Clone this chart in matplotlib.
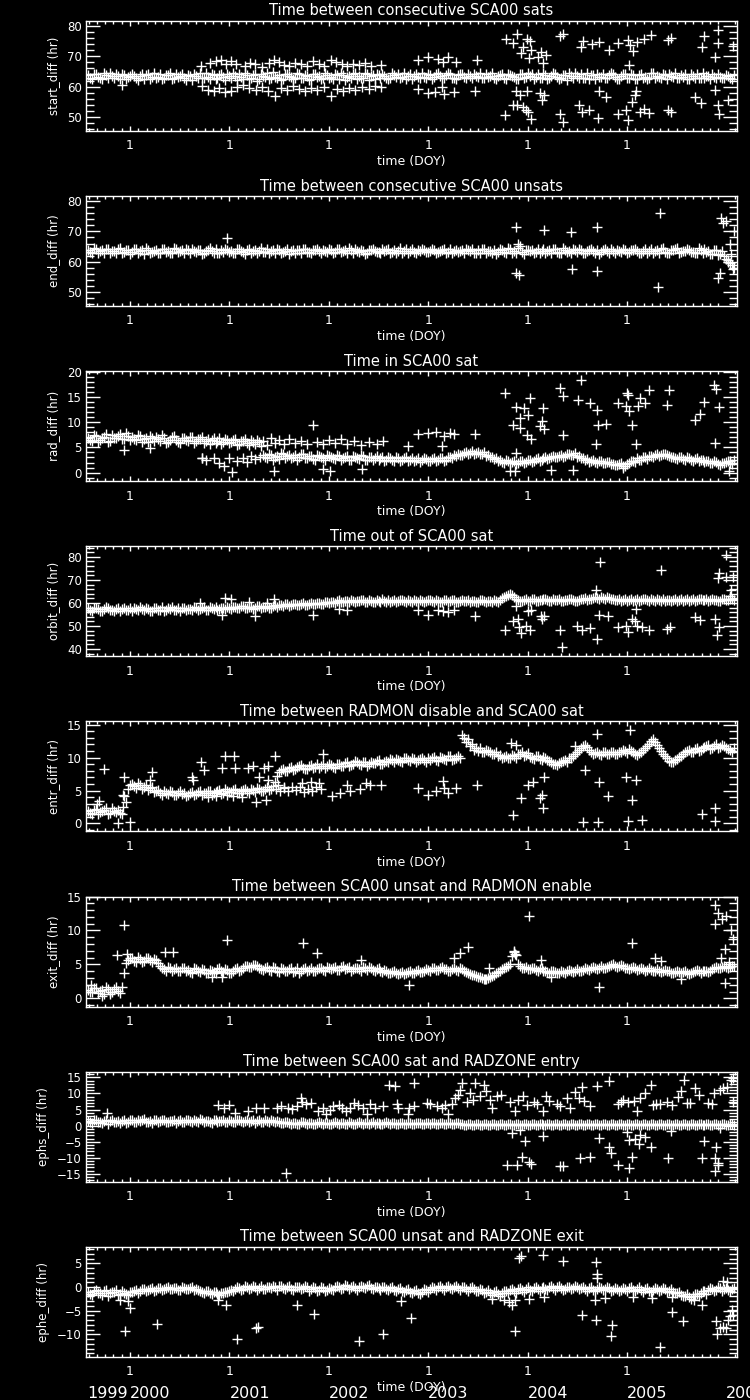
import numpy as np
import matplotlib
matplotlib.use("Agg")
import matplotlib.pyplot as plt
from matplotlib.ticker import MultipleLocator, FixedLocator
from matplotlib.transforms import blended_transform_factory

# ---------------- data ----------------
T0 = 1999.58          # first sample of the dense band A (fractional year)
DT = 0.04             # band sample spacing (years); band B sits half a step later
XLIM = (1999.557, 2006.107)
year_ticks = [2000, 2001, 2002, 2003, 2004, 2005]
year_labels = ["1999", "2000", "2001", "2002", "2003", "2004", "2005", "2006"]
year_label_pos = [1999.567, 2000, 2001, 2002, 2003, 2004, 2005, 2006]

titles = [
    "Time between consecutive SCA00 sats",
    "Time between consecutive SCA00 unsats",
    "Time in SCA00 sat",
    "Time out of SCA00 sat",
    "Time between RADMON disable and SCA00 sat",
    "Time between SCA00 unsat and RADMON enable",
    "Time between SCA00 sat and RADZONE entry",
    "Time between SCA00 unsat and RADZONE exit",
]
ylabels = ["start_diff (hr)", "end_diff (hr)", "rad_diff (hr)", "orbit_diff (hr)",
           "entr_diff (hr)", "exit_diff (hr)", "ephs_diff (hr)", "ephe_diff (hr)"]

# --- panel 1: start_diff
p1_band = [
    63.8, 62.6, 64.1, 63.0, 64.4, 62.8, 63.5, 64.0, 62.4, 63.7, 63.1,
    64.2, 62.9, 63.6, 62.5, 64.0, 63.3, 62.7, 64.3, 63.0, 63.8, 62.6, 64.1, 63.4, 62.8, 63.9, 62.3, 63.6, 64.4, 62.9, 63.2, 64.0, 62.5, 63.7, 63.1, 64.2,
    62.7, 63.5, 64.3, 62.4, 63.8, 63.0, 64.1, 62.6, 63.4, 64.5, 62.9, 63.2, 63.9, 62.5, 64.0, 63.3, 62.8, 64.2, 63.0, 63.6, 62.4, 64.1, 63.5, 62.9, 63.8,
    63.3, 64.2, 62.6, 63.9, 63.1, 62.7, 64.4, 63.4, 62.8, 64.0, 63.6, 62.5, 63.9, 64.3, 63.0, 62.9, 63.7, 64.1, 63.2, 62.6, 64.0, 63.5, 63.1, 64.4, 62.8,
    63.9, 63.2, 64.5, 62.9, 63.7, 64.1, 63.0, 63.8, 64.3, 62.7, 63.5, 64.0, 63.2, 62.8, 64.2, 63.6, 62.9, 63.4, 64.1, 62.6, 63.9, 63.3, 62.5, 64.0, 63.1,
    63.6, 62.4, 64.2, 63.0, 63.8, 62.7, 64.4, 63.3, 62.9, 63.9, 64.6, 62.8, 63.5, 64.1, 63.0, 62.6, 63.8, 64.3, 63.2, 62.9, 63.7, 64.0, 62.5, 63.4, 64.2,
    63.0, 63.7, 62.6, 64.1, 63.3, 62.8, 64.4, 63.5, 62.9, 63.8, 64.2, 63.1, 62.7, 63.9, 64.3, 62.6, 63.4, 64.0, 63.0, 62.8, 63.6, 64.1, 62.9, 63.2, 62.7,
    63.5, 62.4]
p1_band_b = [
    62.9, 64.3, 63.2, 62.5, 63.9, 64.5, 62.7, 63.4, 64.2, 62.6, 63.6,
    63.5, 62.2, 64.0, 63.7, 62.6, 64.4, 63.1, 62.4, 63.8, 64.6, 62.8, 63.3, 64.1, 62.3, 63.5, 64.2, 62.7, 63.0, 64.5, 62.5, 63.9, 62.9, 64.3, 62.1, 63.6,
    64.4, 62.3, 63.1, 64.6, 62.5, 63.7, 62.0, 64.2, 63.3, 62.4, 64.7, 63.0, 62.2, 64.0, 63.5, 62.6, 64.5, 62.9, 63.8, 62.1, 64.3, 63.2, 62.5, 64.6, 62.8,
    62.4, 63.8, 64.5, 62.3, 63.5, 64.2, 62.6, 63.0, 64.6, 62.2, 63.9, 64.1, 62.7, 63.4, 62.5, 64.4, 63.1, 62.8, 64.5, 63.6, 62.4, 64.0, 62.9, 63.3, 64.2,
    62.6, 64.1, 63.4, 62.8, 64.6, 63.0, 62.5, 64.3, 63.1, 64.0, 62.7, 63.6, 64.4, 62.9, 63.3, 64.5, 62.4, 63.8, 62.9, 64.2, 63.5, 62.6, 64.1, 63.0, 64.4,
    64.0, 63.2, 62.7, 64.5, 62.4, 63.6, 64.1, 62.6, 63.9, 62.3, 63.4, 64.4, 62.9, 63.0, 64.6, 63.7, 62.5, 63.1, 64.2, 62.8, 64.5, 63.3, 62.6, 64.0, 62.9,
    64.2, 62.5, 63.8, 63.0, 62.4, 64.5, 62.9, 63.3, 64.1, 62.6, 63.5, 64.4, 62.8, 63.2, 62.5, 64.3, 63.0, 62.7, 64.4, 63.5, 62.4, 63.1, 64.0, 62.8, 63.9,
    62.9, 63.8]
p1_extra = [
    (2000.71, 66.9), (2000.80, 67.8), (2000.86, 68.4), (2000.92, 68.9), (2000.97, 67.6), (2001.02, 68.6),
    (2001.07, 67.3), (2001.16, 66.8), (2001.21, 67.9), (2001.26, 67.5), (2001.33, 66.6), (2001.40, 67.8),
    (2001.45, 68.9), (2001.50, 68.0), (2001.55, 67.2), (2001.60, 66.8), (2001.66, 67.9), (2001.72, 67.4),
    (2001.78, 66.7), (2001.84, 68.6), (2001.90, 67.6), (2001.95, 66.9), (2002.02, 68.8), (2002.07, 68.0),
    (2002.13, 67.4), (2002.18, 66.8), (2002.24, 67.6), (2002.30, 67.1), (2002.36, 67.9), (2002.42, 66.9),
    (2002.53, 67.0),
    (2000.72, 60.1), (2000.78, 58.9), (2000.84, 58.4), (2000.90, 59.6), (2000.96, 58.1), (2001.02, 58.7),
    (2001.08, 59.9), (2001.14, 60.5), (2001.20, 59.4), (2001.27, 58.8), (2001.33, 59.8), (2001.39, 58.6),
    (2001.46, 57.0), (2001.52, 59.5), (2001.58, 58.9), (2001.64, 60.2), (2001.70, 59.1), (2001.76, 58.5),
    (2001.82, 59.7), (2001.88, 58.9), (2001.95, 60.0), (2002.02, 57.0), (2002.08, 59.2), (2002.14, 58.4),
    (2002.20, 59.6), (2002.26, 58.8), (2002.33, 59.9), (2002.40, 59.3), (2002.46, 60.3), (2002.53, 60.0),
    (1999.92, 60.5), (2002.90, 68.8), (2003.00, 69.7), (2003.10, 69.1), (2003.15, 68.2), (2003.20, 69.7),
    (2003.28, 68.2), (2003.49, 68.8), (2002.90, 59.2), (2003.00, 57.8), (2003.07, 58.1), (2003.14, 60.0),
    (2003.16, 57.5), (2003.26, 58.1), (2003.47, 58.4),
    (2003.78, 75.7), (2003.89, 77.3), (2003.85, 74.3), (2003.99, 75.7), (2004.02, 75.1), (2003.95, 73.2),
    (2003.93, 71.0), (2004.03, 72.1), (2004.13, 71.3), (2004.01, 69.3), (2004.10, 69.9), (2004.19, 70.4),
    (2004.16, 67.7), (2004.33, 76.5), (2004.36, 77.3), (2004.54, 73.2), (2004.56, 75.1), (2004.65, 74.0),
    (2004.72, 74.8), (2004.82, 72.1), (2004.91, 74.3), (2005.01, 75.4), (2005.03, 73.7), (2005.06, 71.8),
    (2005.10, 74.6), (2005.17, 75.7), (2005.24, 77.0), (2005.41, 75.4), (2005.44, 76.0), (2005.75, 73.0),
    (2005.78, 76.5), (2005.92, 78.7), (2005.92, 74.3), (2005.89, 69.6), (2006.07, 73.5), (2005.02, 67.1),
    (2003.77, 50.7), (2003.85, 54.0), (2003.89, 53.8), (2003.95, 53.4), (2003.98, 52.3), (2004.00, 51.5),
    (2004.03, 49.2), (2003.88, 58.4), (2003.92, 57.3), (2003.99, 58.6), (2004.12, 57.8), (2004.17, 57.3),
    (2004.14, 55.6), (2004.33, 50.9), (2004.36, 48.2), (2004.52, 53.8), (2004.55, 51.8), (2004.62, 52.3),
    (2004.71, 49.8), (2004.72, 58.4), (2004.79, 56.7), (2004.91, 50.9), (2004.99, 52.3), (2005.01, 49.0),
    (2005.05, 55.1), (2005.09, 58.6), (2005.08, 57.3), (2005.13, 51.8), (2005.17, 52.6), (2005.22, 51.2),
    (2005.41, 52.3), (2005.44, 51.5), (2005.68, 56.7), (2005.74, 54.5), (2005.89, 58.9), (2005.92, 53.8),
    (2005.93, 50.9), (2006.02, 55.6)]

# --- panel 2: end_diff
p2_band = [
    63.9, 63.0, 64.3, 63.4, 62.8, 64.1, 63.6, 62.9, 64.4, 63.2, 63.8,
    63.1, 64.2, 63.5, 62.7, 64.0, 63.3, 63.9, 62.9, 64.3, 63.6, 63.0, 64.1, 63.4, 62.8, 63.8, 64.2, 63.1, 63.7, 62.9, 64.0, 63.5, 64.3, 63.0, 63.2, 63.9,
    63.6, 62.9, 64.1, 63.3, 63.8, 62.8, 64.0, 63.5, 63.1, 64.3, 63.4, 62.9, 63.9, 63.2, 64.2, 63.6, 63.0, 63.7, 64.1, 63.3, 62.8, 63.9, 63.5, 64.0, 63.2,
    63.7, 63.1, 64.2, 63.4, 62.9, 63.8, 64.1, 63.3, 63.6, 62.8, 64.0, 63.5, 63.2, 64.3, 63.7, 63.0, 63.9, 63.4, 62.9, 64.1, 63.6, 63.2, 63.8, 64.2, 63.3,
    63.5, 64.0, 63.1, 63.8, 62.8, 64.2, 63.6, 63.2, 63.9, 64.1, 63.4, 62.9, 63.7, 64.3, 63.0, 63.6, 64.0, 63.3, 63.8, 62.9, 64.1, 63.5, 64.6, 63.1, 63.9,
    63.4, 62.9, 64.1, 63.6, 63.0, 63.8, 64.2, 63.3, 62.8, 63.9, 63.5, 64.3, 63.1, 63.7, 62.9, 64.0, 63.4, 63.8, 63.2, 64.1, 62.8, 63.6, 64.0, 63.3, 63.7,
    63.2, 63.9, 63.5, 62.9, 64.2, 63.4, 63.0, 63.8, 64.1, 63.3, 62.8, 63.9, 64.4, 63.1, 63.6, 64.0, 63.2, 62.9, 63.7, 64.1, 63.4, 62.7, 63.8, 62.5, 61.8,
    60.5, 58.9]
p2_band_b = [
    63.2, 64.4, 62.9, 63.7, 64.2, 62.8, 63.5, 64.3, 63.0, 63.9, 62.7,
    64.2, 63.0, 63.8, 64.5, 62.9, 63.6, 62.8, 64.1, 63.3, 62.9, 64.4, 63.1, 63.7, 64.3, 62.8, 63.4, 64.0, 62.7, 63.6, 64.4, 63.0, 62.8, 63.9, 64.2, 63.1,
    63.0, 64.3, 63.4, 62.7, 64.1, 63.6, 62.9, 64.4, 63.2, 62.8, 63.9, 64.2, 63.0, 63.5, 62.7, 64.0, 63.8, 62.9, 64.3, 63.1, 63.7, 64.2, 62.8, 63.4, 64.1,
    62.9, 64.2, 63.3, 63.8, 64.4, 62.8, 63.5, 64.0, 62.7, 63.9, 64.3, 63.1, 62.8, 63.6, 64.1, 63.2, 62.9, 64.4, 63.5, 63.0, 64.2, 62.8, 63.6, 64.0, 63.1,
    64.1, 62.9, 63.6, 64.3, 63.2, 62.8, 64.0, 63.5, 62.9, 63.7, 64.3, 63.0, 62.8, 64.2, 63.4, 63.0, 62.7, 64.1, 63.3, 64.4, 63.0, 62.8, 65.2, 62.4, 64.0,
    64.0, 63.2, 62.8, 64.3, 63.5, 62.9, 64.1, 63.0, 64.4, 63.2, 62.8, 63.8, 64.2, 62.9, 63.6, 64.3, 63.0, 62.7, 64.0, 63.4, 64.3, 62.9, 63.5, 64.1, 62.8,
    63.8, 64.3, 62.9, 63.5, 62.8, 64.1, 63.6, 62.9, 64.4, 63.0, 63.7, 64.2, 62.9, 63.4, 64.1, 63.2, 62.8, 64.4, 63.0, 63.3, 62.6, 64.0, 62.2, 63.5, 61.0,
    59.5, 57.8]
p2_extra = [
    (2000.98, 67.8), (2003.88, 71.4), (2003.90, 66.0), (2003.88, 56.3), (2003.91, 55.6), (2004.17, 70.4),
    (2004.44, 69.8), (2004.45, 57.6), (2004.70, 71.4), (2004.70, 56.9), (2005.33, 76.0), (2005.31, 51.6),
    (2005.95, 74.5), (2005.97, 72.8), (2006.00, 73.5), (2005.92, 54.8), (2005.94, 56.2), (2006.02, 60.0),
    (2006.05, 62.5), (2006.07, 57.5), (2006.04, 66.0), (2006.08, 70.0)]

# --- panel 3: rad_diff
p3_band = [
    6.9, 6.2, 7.3, 6.5, 7.0, 6.1, 7.4, 6.8, 7.6, 6.6, 7.2,
    7.0, 6.4, 7.3, 6.7, 6.0, 6.9, 7.1, 6.3, 6.8, 6.1, 7.0, 6.5, 5.9, 6.8, 6.3, 7.0, 6.2, 6.6, 5.8, 6.7, 6.4, 5.9, 6.8, 6.1, 6.5,
    6.0, 6.6, 5.7, 6.3, 5.9, 6.4, 5.6, 6.1, 3.4, 2.9, 3.5, 3.1, 2.7, 3.6, 3.2, 2.8, 3.4, 3.0, 3.6, 2.9, 3.3, 2.6, 3.2, 2.9, 3.4,
    3.1, 2.7, 3.3, 2.8, 3.2, 2.5, 3.0, 2.7, 3.3, 2.6, 3.1, 2.8, 2.5, 3.0, 2.6, 2.9, 2.4, 2.8, 2.5, 3.0, 2.6, 2.3, 2.8, 2.5, 2.7,
    2.4, 2.8, 2.5, 2.9, 2.6, 3.1, 3.4, 3.7, 3.5, 4.0, 3.8, 3.6, 4.1, 3.7, 3.3, 3.0, 2.7, 2.4, 2.2, 2.5, 1.9, 2.3, 2.0, 2.4, 2.1,
    2.5, 2.3, 2.8, 2.6, 3.0, 2.8, 3.2, 3.0, 3.4, 3.2, 3.6, 3.4, 3.1, 2.8, 2.5, 2.2, 2.5, 2.0, 2.3, 1.9, 2.1, 1.7, 1.5, 1.9, 1.4,
    2.0, 2.4, 2.8, 2.5, 3.0, 3.3, 3.1, 3.6, 3.4, 3.7, 3.3, 3.0, 2.7, 3.1, 2.6, 2.9, 2.4, 2.8, 2.5, 2.2, 2.4, 1.9, 2.2, 1.6, 2.0,
    2.3, 1.8]
p3_band_b = [
    6.4, 7.5, 6.0, 6.8, 7.7, 6.3, 6.9, 7.3, 6.7, 7.8, 6.5,
    6.6, 7.5, 6.1, 6.9, 7.2, 6.2, 6.6, 7.4, 5.9, 6.5, 7.2, 6.0, 6.9, 6.4, 7.1, 5.8, 6.6, 7.0, 6.3, 5.7, 6.9, 6.2, 5.6, 6.6, 5.9,
    6.4, 5.5, 6.2, 6.7, 5.4, 6.0, 6.5, 5.3, 3.0, 3.6, 2.6, 3.3, 3.8, 2.8, 3.5, 3.1, 2.6, 3.6, 2.8, 3.3, 2.7, 3.4, 3.0, 2.5, 3.2,
    2.8, 3.4, 2.6, 3.1, 2.5, 3.2, 2.8, 3.4, 2.5, 3.0, 2.6, 3.2, 2.9, 2.4, 3.1, 2.5, 3.0, 2.3, 2.9, 2.4, 2.8, 2.6, 2.2, 2.9, 2.3,
    2.7, 2.3, 2.9, 2.4, 3.0, 2.8, 3.2, 3.4, 3.9, 3.6, 4.2, 3.9, 3.6, 4.0, 3.5, 3.1, 2.8, 2.5, 2.0, 2.3, 2.1, 1.8, 2.4, 2.0, 2.6,
    2.2, 2.7, 2.4, 2.9, 2.7, 3.1, 3.0, 3.3, 3.1, 3.6, 3.4, 3.8, 3.3, 2.9, 2.7, 2.4, 2.1, 2.4, 1.9, 2.2, 1.8, 1.5, 1.8, 1.3, 1.7,
    2.3, 2.1, 2.6, 3.0, 2.7, 3.2, 3.5, 3.3, 3.7, 3.5, 3.1, 2.8, 3.0, 2.7, 3.0, 2.5, 2.7, 2.3, 2.6, 2.3, 2.0, 2.3, 1.8, 1.9, 2.2,
    2.0, 2.5]
p3_extra = [
    (2000.72, 2.9), (2000.76, 2.6), (2000.84, 2.8), (2000.90, 2.0), (2000.95, 1.3), (2001.00, 2.8),
    (2001.03, 0.2), (2001.08, 2.4), (2001.14, 2.9), (2001.18, 2.1), (2001.22, 3.2), (2001.26, 2.7),
    (2001.31, 3.0), (1999.94, 4.4), (2000.20, 4.9), (2000.72, 2.8),
    (2001.34, 6.2), (2001.38, 5.5), (2001.42, 6.8), (2001.46, 5.9), (2001.50, 6.4), (2001.55, 5.7),
    (2001.60, 6.6), (2001.66, 5.8), (2001.72, 6.3), (2001.78, 5.6), (2001.84, 9.5), (2001.88, 6.1),
    (2001.94, 5.7), (2002.00, 6.4), (2002.06, 5.9), (2002.12, 6.6), (2002.18, 5.6), (2002.25, 6.2),
    (2002.32, 5.5), (2002.40, 6.0), (2002.48, 5.7), (2002.55, 6.3),
    (2001.45, 0.3), (2001.94, 0.7), (2002.01, 0.3), (2002.33, 0.7),
    (2002.90, 7.7), (2003.00, 7.9), (2003.08, 8.1), (2003.16, 7.2), (2003.22, 7.9), (2003.26, 7.6),
    (2003.47, 7.7), (2003.14, 5.3), (2002.80, 5.3),
    (2003.77, 15.7), (2003.88, 13.0), (2003.96, 12.8), (2003.92, 10.9), (2004.00, 11.4), (2004.02, 14.8),
    (2004.16, 12.8), (2003.85, 9.5), (2003.92, 8.9), (2004.12, 9.2), (2004.15, 10.2), (2004.17, 8.6),
    (2003.99, 7.4), (2004.03, 6.6), (2004.33, 16.8), (2004.36, 15.1), (2004.36, 7.4), (2004.54, 18.4),
    (2004.51, 14.3), (2004.63, 13.8), (2004.70, 12.5), (2004.71, 9.5), (2004.79, 9.7), (2004.69, 5.6),
    (2004.91, 13.8), (2005.00, 15.8), (2005.01, 15.3), (2004.99, 13.2), (2005.02, 12.2), (2005.05, 9.5),
    (2005.09, 5.7), (2005.13, 14.7), (2005.11, 13.2), (2005.18, 13.8), (2005.22, 16.4), (2005.42, 16.4),
    (2005.40, 13.5), (2005.68, 10.5), (2005.73, 11.6), (2005.78, 13.9), (2005.88, 17.4), (2005.90, 16.6),
    (2005.93, 13.0), (2005.89, 5.9),
    (2003.82, 0.3), (2003.87, 0.3), (2004.96, 1.0), (2006.03, 0.3), (2006.04, 2.3), (2004.24, 0.5),
    (2004.46, 0.5), (2003.88, 3.9)]

# --- panel 4: orbit_diff
p4_band = [
    57.6, 56.7, 57.9, 56.5, 57.3, 58.0, 56.8, 57.4, 56.4, 57.8, 57.0,
    56.6, 57.5, 58.1, 56.9, 57.3, 56.4, 57.9, 57.1, 56.7, 57.7, 58.2, 57.0, 56.5, 57.6, 57.2, 56.8, 57.9, 57.4, 58.1, 57.0, 57.6, 58.3, 57.2, 57.8, 58.4,
    57.5, 58.2, 57.7, 58.6, 57.9, 58.3, 57.6, 58.8, 58.1, 58.5, 57.8, 58.9, 59.3, 58.7, 59.5, 59.0, 59.6, 58.9, 59.8, 59.2, 59.9, 59.4, 60.1, 59.6, 60.3,
    60.6, 60.0, 61.1, 60.4, 60.8, 61.3, 60.2, 60.9, 61.4, 60.5, 61.0, 60.3, 60.9, 61.5, 60.6, 60.2, 61.2, 60.7, 61.4, 60.4, 60.9, 61.3, 60.5, 61.0, 60.7,
    61.2, 60.6, 61.0, 60.3, 61.4, 60.8, 61.1, 60.5, 61.3, 60.7, 60.2, 61.0, 60.6, 61.2, 60.4, 60.9, 61.3, 60.6, 62.0, 63.2, 63.9, 62.5, 61.4, 60.8, 61.5,
    61.0, 61.6, 60.8, 61.3, 61.9, 60.9, 61.5, 61.1, 60.7, 61.4, 61.8, 61.2, 60.8, 61.6, 62.1, 61.5, 62.3, 62.0, 62.6, 61.9, 62.2, 61.7, 61.3, 61.0, 61.6,
    61.2, 60.8, 61.5, 61.1, 61.7, 60.9, 61.3, 61.8, 61.0, 60.7, 61.4, 61.1, 60.8, 61.5, 61.2, 60.9, 61.6, 61.1, 61.8, 61.3, 61.0, 61.7, 61.4, 60.9, 61.6,
    61.3, 61.8]
p4_band_b = [
    56.9, 57.9, 57.2, 56.6, 58.1, 57.0, 56.5, 57.7, 57.3, 56.8, 57.6,
    57.9, 56.8, 57.3, 58.0, 56.6, 57.7, 57.0, 58.2, 56.9, 57.4, 57.1, 57.8, 58.0, 56.9, 57.3, 58.1, 56.9, 57.6, 57.0, 58.2, 57.4, 57.1, 58.0, 57.3, 57.7,
    58.3, 57.6, 58.6, 57.9, 58.4, 57.5, 58.7, 58.0, 58.4, 57.9, 58.6, 58.2, 59.0, 59.4, 58.8, 59.7, 59.1, 59.5, 59.3, 59.7, 59.5, 60.0, 59.6, 60.2, 59.9,
    60.3, 60.9, 60.5, 60.9, 60.2, 61.0, 60.7, 61.2, 60.6, 61.1, 60.4, 61.3, 60.6, 60.8, 61.2, 60.7, 60.4, 61.2, 60.8, 61.1, 60.5, 60.8, 61.3, 60.6, 61.1,
    60.7, 61.2, 60.5, 61.1, 60.6, 61.2, 60.4, 61.0, 60.8, 61.3, 60.9, 60.5, 61.2, 60.7, 61.0, 60.6, 60.8, 61.4, 62.6, 63.6, 63.3, 61.9, 60.9, 61.3, 60.9,
    61.5, 60.9, 61.3, 61.6, 61.1, 60.8, 61.4, 61.6, 61.0, 61.2, 61.5, 60.9, 61.4, 61.8, 61.3, 61.9, 62.4, 61.8, 62.2, 62.5, 61.8, 61.4, 61.8, 61.4, 61.0,
    61.6, 61.3, 60.9, 61.6, 61.1, 61.5, 61.0, 61.4, 61.6, 61.2, 60.9, 61.5, 61.2, 60.9, 61.6, 61.4, 60.8, 61.5, 61.3, 61.7, 61.1, 61.4, 61.0, 61.6, 61.2,
    61.6, 61.1]
p4_extra = [
    (2004.73, 77.7), (2005.34, 74.2), (2006.00, 81.0), (2005.93, 73.0), (2005.92, 70.9), (2006.00, 71.3),
    (2006.07, 71.3), (2006.05, 65.8), (2006.04, 62.9), (2005.89, 53.0), (2005.93, 49.6), (2005.91, 46.2),
    (2005.68, 53.9), (2005.73, 52.5), (2005.40, 48.7), (2005.43, 49.6), (2003.77, 48.4), (2003.85, 52.3),
    (2003.90, 53.0), (2003.91, 49.6), (2003.93, 47.0), (2003.98, 49.9), (2004.02, 48.1), (2004.00, 56.4),
    (2004.03, 56.8), (2004.13, 54.2), (2004.15, 52.8), (2004.17, 54.5), (2003.88, 58.8), (2004.33, 48.1),
    (2004.35, 40.9), (2004.50, 50.1), (2004.55, 48.4), (2004.63, 49.1), (2004.70, 44.3), (2004.72, 54.9),
    (2004.81, 54.5), (2004.69, 65.8), (2004.91, 49.6), (2004.99, 50.1), (2005.01, 47.2), (2005.05, 52.8),
    (2005.08, 52.0), (2005.10, 50.1), (2005.15, 49.6), (2005.22, 48.4), (2005.09, 57.4),
    (2002.90, 56.8), (2003.00, 54.9), (2003.10, 57.1), (2003.15, 56.4), (2003.20, 55.9), (2003.26, 57.1),
    (2003.47, 54.5), (2001.84, 54.9), (2001.26, 54.2), (2000.93, 54.9), (2000.96, 62.2), (2001.02, 61.7),
    (2001.45, 61.7), (2000.70, 60.0), (2001.20, 60.4), (2001.38, 59.9), (2002.10, 57.2), (2002.18, 57.0)]

# --- panel 5: entr_diff
p5_band = [
    1.9, 1.5, 2.2, 1.7, 2.0, 1.4, 2.3, 1.8, 1.6, 4.2, 5.3,
    6.0, 5.4, 5.9, 5.5, 5.1, 5.6, 4.9, 4.6, 5.0, 4.5, 4.8, 4.4, 4.9, 4.6, 4.3, 4.8, 4.5, 5.0, 4.6, 4.9, 4.4, 4.8, 5.1, 4.7, 5.0,
    4.8, 5.2, 4.7, 5.1, 4.9, 5.3, 4.8, 5.2, 5.0, 5.5, 5.3, 6.3, 7.8, 8.3, 8.0, 8.6, 8.2, 8.8, 8.5, 8.3, 8.9, 8.6, 8.4, 9.0, 8.7,
    8.9, 8.5, 9.1, 8.7, 9.3, 8.9, 9.5, 9.0, 9.3, 8.8, 9.4, 9.2, 9.6, 9.1, 9.5, 9.8, 9.3, 9.7, 9.4, 9.9, 9.5, 9.8, 9.6, 10.0, 9.4,
    9.7, 10.1, 9.5, 9.9, 9.6, 10.2, 9.8, 10.3, 13.4, 12.4, 11.8, 11.2, 11.0, 10.9, 11.2, 10.8, 10.5, 10.2, 10.0, 10.3, 9.9, 10.2, 10.5, 10.8, 10.4,
    10.1, 9.8, 10.2, 9.7, 10.0, 9.5, 9.1, 8.9, 9.3, 9.6, 9.9, 10.3, 10.8, 11.5, 11.9, 11.2, 10.6, 10.9, 10.4, 10.8, 10.5, 10.9, 10.6, 10.8, 11.0,
    11.3, 10.8, 10.4, 10.9, 11.4, 12.1, 12.8, 11.9, 11.0, 10.2, 9.5, 9.3, 9.8, 10.3, 10.8, 11.2, 10.9, 11.4, 11.1, 11.6, 11.9, 11.5, 12.0, 11.6, 11.8,
    11.3, 10.9]
p5_band_b = [
    1.6, 2.1, 1.4, 1.9, 2.4, 1.6, 1.9, 2.1, 1.5, 3.3, 5.8,
    5.7, 6.1, 5.2, 5.8, 5.4, 4.8, 5.1, 4.4, 4.7, 5.0, 4.3, 4.7, 4.5, 4.2, 4.7, 4.4, 4.8, 4.3, 4.7, 5.0, 4.6, 4.9, 4.5, 5.2, 4.8,
    5.1, 4.6, 5.0, 5.3, 4.7, 5.1, 5.4, 4.9, 5.3, 5.1, 5.7, 7.2, 8.1, 7.9, 8.5, 8.1, 8.6, 8.9, 8.3, 8.7, 8.5, 9.0, 8.7, 8.5, 9.1,
    8.6, 9.0, 8.8, 9.2, 8.7, 9.1, 9.3, 8.9, 9.4, 9.0, 9.2, 9.5, 9.0, 9.4, 9.3, 9.6, 9.8, 9.5, 9.9, 9.6, 9.9, 9.4, 9.8, 9.6, 9.9,
    10.0, 9.6, 10.1, 9.8, 10.3, 9.7, 10.0, 9.9, 13.0, 12.8, 12.1, 11.5, 11.4, 10.9, 11.0, 10.6, 10.9, 10.4, 10.1, 9.9, 10.4, 10.0, 10.6, 10.3, 10.7,
    9.9, 10.3, 9.8, 10.1, 9.7, 9.3, 9.0, 9.2, 9.5, 9.4, 10.0, 10.6, 11.2, 11.7, 11.6, 10.9, 10.7, 10.5, 10.9, 10.6, 10.8, 10.5, 10.9, 11.1, 10.7,
    11.0, 10.6, 10.7, 11.2, 11.7, 12.5, 12.4, 11.4, 10.6, 9.9, 9.3, 9.6, 10.1, 10.6, 11.0, 10.9, 11.3, 11.0, 11.5, 11.8, 11.3, 11.8, 11.4, 11.9, 11.5,
    11.1, 11.4]
p5_extra = [
    (1999.74, 8.3), (1999.69, 3.4), (1999.67, 3.0), (1999.88, 0.15), (2000.00, 0.25), (1999.94, 7.1),
    (1999.93, 4.3), (1999.93, 2.5), (2000.22, 7.8), (2000.20, 6.6), (2000.62, 7.1), (2000.63, 6.6),
    (2000.71, 9.4), (2000.74, 8.1), (2000.96, 10.3), (2001.05, 10.2), (2000.93, 8.5), (2001.06, 8.4),
    (2001.19, 8.5), (2001.24, 8.8), (2001.35, 8.5), (2001.39, 8.8), (2001.46, 10.3),
    (2000.78, 4.0), (2000.87, 4.1), (2000.98, 4.3), (2001.04, 4.1), (2001.13, 4.0), (2001.27, 3.3),
    (2001.37, 3.5), (2001.30, 7.1), (2001.39, 6.6), (2001.49, 5.8), (2001.55, 5.6),
    (2001.47, 5.3), (2001.51, 4.9), (2001.55, 5.4), (2001.59, 5.0), (2001.63, 5.6), (2001.67, 5.1),
    (2001.71, 5.5), (2001.75, 4.8), (2001.79, 5.3), (2001.83, 5.0), (2001.87, 5.6), (2001.92, 5.2),
    (2001.73, 6.1), (2001.82, 6.3), (2001.90, 6.1), (2001.94, 10.5),
    (2002.03, 4.2), (2002.11, 4.7), (2002.18, 5.8), (2002.21, 4.9), (2002.31, 5.2), (2002.37, 6.1),
    (2002.41, 5.8), (2002.53, 5.8), (2002.90, 5.4), (2003.00, 4.4), (2003.08, 4.9), (2003.16, 5.4),
    (2003.20, 4.7), (2003.28, 5.4), (2003.49, 5.9), (2003.15, 6.4),
    (2004.70, 13.6), (2005.03, 14.2), (2003.85, 1.3), (2003.93, 3.8), (2004.00, 5.8), (2004.05, 6.3),
    (2004.12, 3.9), (2004.15, 4.4), (2004.16, 2.3), (2004.17, 7.1), (2004.56, 0.25), (2004.71, 0.25),
    (2004.72, 6.3), (2004.81, 4.2), (2004.99, 7.1), (2005.09, 6.6), (2005.01, 0.35), (2005.15, 0.5),
    (2005.05, 3.6), (2005.75, 1.5), (2005.89, 2.3), (2005.89, 0.35), (2003.83, 12.2), (2003.88, 11.9),
    (2004.48, 11.7), (2004.58, 8.1)]

# --- panel 6: exit_diff
p6_band = [
    1.3, 0.9, 1.5, 1.1, 0.7, 1.4, 1.0, 1.6, 0.8, 3.7, 5.6,
    5.9, 5.3, 5.8, 5.5, 6.0, 5.4, 5.7, 4.7, 4.3, 4.6, 4.1, 4.5, 4.0, 4.4, 4.2, 3.8, 4.3, 3.9, 4.2, 3.7, 4.1, 3.8, 4.4, 3.9, 4.2,
    3.8, 4.3, 4.0, 4.5, 4.8, 4.6, 4.9, 4.5, 4.2, 4.6, 4.1, 4.4, 3.9, 4.3, 4.0, 4.5, 4.1, 3.8, 4.3, 4.0, 4.4, 4.1, 4.5, 4.2, 4.6,
    4.3, 4.6, 4.2, 4.7, 4.4, 4.1, 4.5, 4.3, 4.6, 4.2, 4.5, 4.0, 4.4, 3.9, 4.1, 3.7, 4.0, 3.6, 3.9, 3.7, 4.1, 3.8, 4.2, 3.9, 4.3,
    4.1, 4.5, 4.2, 4.6, 4.3, 4.0, 4.4, 4.1, 4.3, 3.9, 3.6, 3.4, 3.2, 3.0, 2.8, 3.1, 3.5, 3.9, 4.3, 4.6, 5.0, 6.9, 5.1, 4.4, 4.6,
    4.3, 4.5, 4.1, 4.4, 4.0, 3.8, 4.1, 3.7, 4.0, 3.8, 4.2, 3.9, 4.3, 4.0, 4.4, 4.2, 4.6, 4.3, 4.7, 4.4, 4.8, 5.0, 4.6, 4.9, 4.5,
    4.3, 4.6, 4.2, 4.5, 4.1, 4.4, 4.0, 4.3, 3.9, 4.2, 4.0, 3.7, 4.1, 3.8, 4.0, 3.6, 3.9, 4.2, 3.8, 4.1, 3.9, 4.3, 4.6, 4.4, 4.7,
    4.5, 4.8]
p6_band_b = [
    1.0, 1.5, 0.8, 1.3, 1.6, 0.9, 1.4, 1.1, 1.6, 5.2, 6.0,
    5.5, 6.1, 5.4, 5.9, 5.6, 5.8, 5.2, 4.5, 4.1, 4.4, 4.3, 4.0, 4.5, 4.1, 3.9, 4.4, 4.0, 4.3, 3.8, 4.2, 3.9, 4.3, 4.0, 4.3, 3.8,
    4.1, 4.4, 4.2, 4.7, 4.6, 4.9, 4.7, 4.3, 4.5, 4.2, 4.6, 4.1, 4.5, 4.1, 4.3, 3.9, 4.4, 4.1, 4.4, 4.2, 4.0, 4.3, 4.4, 4.1, 4.4,
    4.5, 4.2, 4.6, 4.3, 4.6, 4.3, 4.4, 4.1, 4.4, 4.6, 4.2, 4.3, 4.1, 4.2, 3.8, 3.9, 3.7, 3.8, 3.6, 3.9, 3.8, 4.0, 3.9, 4.1, 4.2,
    4.4, 4.2, 4.4, 4.3, 4.1, 4.3, 4.2, 4.4, 4.0, 3.7, 3.5, 3.3, 3.1, 2.9, 3.0, 3.3, 3.7, 4.1, 4.4, 4.8, 6.2, 6.4, 4.7, 4.5, 4.3,
    4.4, 4.2, 4.3, 4.1, 3.9, 4.0, 3.9, 3.8, 3.9, 4.0, 4.1, 4.1, 4.1, 4.2, 4.3, 4.4, 4.4, 4.5, 4.5, 4.6, 4.9, 4.8, 4.7, 4.7, 4.4,
    4.4, 4.4, 4.3, 4.3, 4.2, 4.2, 4.1, 4.1, 4.0, 4.1, 3.8, 3.9, 3.9, 3.9, 3.8, 3.8, 4.0, 4.0, 4.0, 4.0, 4.1, 4.4, 4.5, 4.6, 4.6,
    4.6, 4.7]
p6_extra = [
    (1999.94, 10.8), (1999.87, 6.4), (1999.97, 6.5), (2000.35, 6.8), (2000.43, 6.9), (2000.98, 8.6),
    (2000.82, 3.1), (2000.93, 3.1), (2001.74, 8.2), (2001.88, 6.7), (2002.32, 5.6), (2002.81, 1.9),
    (2003.26, 5.9), (2003.32, 6.7), (2003.40, 7.6), (2003.61, 4.5), (2003.57, 2.8), (2004.01, 12.1),
    (2004.13, 5.6), (2004.24, 3.1), (2004.72, 1.6), (2005.05, 8.2), (2005.28, 5.9), (2005.34, 5.5),
    (2005.54, 2.9), (2005.89, 13.7), (2005.92, 12.6), (2005.96, 11.7), (2006.00, 12.1), (2005.89, 11.0),
    (2006.05, 10.0), (2006.07, 8.8), (2005.99, 7.2), (2005.99, 2.3), (2005.95, 5.9), (2006.03, 5.4),
    (2003.86, 7.0), (2003.87, 6.5), (1999.61, 1.9), (1999.72, 0.4), (1999.80, 0.6)]

# --- panel 7: ephs_diff
p7_band = [
    1.3, 0.7, 1.8, 1.0, 1.5, 0.6, 1.9, 1.2, 0.8, 1.6, 1.1,
    1.7, 1.0, 1.4, 2.0, 1.2, 0.8, 1.6, 1.3, 1.9, 1.0, 1.5, 0.9, 1.8, 1.2, 1.6, 1.0, 1.4, 2.0, 1.1, 1.5, 0.9, 1.7, 1.3, 1.8, 1.0,
    1.5, 1.2, 1.9, 1.0, 1.6, 1.3, 0.9, 1.7, 1.1, 1.4, 1.8, 1.0, 1.2, 0.7, 1.0, 0.5, 0.9, 0.6, 1.1, 0.4, 0.8, 0.6, 1.0, 0.5, 0.8,
    0.6, 1.0, 0.5, 0.9, 0.4, 0.8, 0.6, 1.1, 0.5, 0.9, 0.7, 0.4, 0.9, 0.6, 1.0, 0.5, 0.8, 0.6, 0.9, 0.4, 0.8, 0.5, 0.9, 0.6, 0.7,
    0.5, 0.9, 0.6, 0.8, 0.4, 0.7, 0.5, 0.8, 0.4, 0.3, 0.5, 0.2, 0.4, 0.3, 0.5, 0.2, 0.4, 0.3, 0.5, 0.2, 0.4, 0.3, 0.5, 0.3, 0.4,
    0.2, 0.4, 0.3, 0.5, 0.2, 0.4, 0.3, 0.5, 0.2, 0.4, 0.3, 0.5, 0.3, 0.4, 0.2, 0.5, 0.3, 0.4, 0.2, 0.4, 0.3, 0.5, 0.3, 0.4, 0.2,
    0.4, 0.3, 0.5, 0.2, 0.4, 0.3, 0.5, 0.3, 0.4, 0.2, 0.4, 0.3, 0.5, 0.2, 0.4, 0.3, 0.5, 0.3, 0.4, 0.2, 0.4, 0.3, 0.5, 0.3, 0.4,
    0.3, 0.5]
p7_band_b = [
    1.0, 1.6, 1.2, 0.8, 1.7, 1.3, 1.0, 1.5, 1.3, 0.9, 1.7,
    1.2, 1.6, 1.8, 1.1, 1.5, 1.9, 1.1, 1.7, 1.2, 1.4, 1.8, 1.3, 1.0, 1.6, 1.3, 1.8, 1.2, 1.6, 1.4, 1.0, 1.7, 1.1, 1.5, 1.2, 1.6,
    1.2, 1.7, 1.3, 1.5, 1.1, 1.8, 1.4, 1.2, 1.6, 1.0, 1.3, 1.5, 0.8, 1.1, 0.7, 0.9, 0.6, 1.0, 0.7, 0.9, 0.5, 0.9, 0.7, 0.9, 0.6,
    0.9, 0.7, 0.8, 0.6, 1.0, 0.5, 0.9, 0.7, 0.8, 0.5, 1.0, 0.7, 0.5, 0.8, 0.7, 0.9, 0.5, 0.8, 0.6, 0.9, 0.5, 0.8, 0.7, 0.6, 0.9,
    0.7, 0.6, 0.8, 0.5, 0.7, 0.6, 0.7, 0.5, 0.3, 0.4, 0.3, 0.5, 0.2, 0.4, 0.3, 0.4, 0.3, 0.4, 0.3, 0.4, 0.3, 0.4, 0.3, 0.4, 0.3,
    0.4, 0.3, 0.4, 0.3, 0.4, 0.3, 0.4, 0.3, 0.4, 0.3, 0.4, 0.3, 0.4, 0.3, 0.4, 0.3, 0.4, 0.3, 0.4, 0.3, 0.4, 0.3, 0.4, 0.3, 0.4,
    0.3, 0.4, 0.3, 0.4, 0.3, 0.4, 0.3, 0.4, 0.3, 0.4, 0.3, 0.4, 0.3, 0.4, 0.3, 0.4, 0.3, 0.4, 0.3, 0.4, 0.3, 0.4, 0.3, 0.4, 0.3,
    0.4, 0.3]
p7_extra = [
    (1999.77, 3.9), (2000.89, 6.3), (2000.95, 5.6), (2001.00, 6.3), (2001.06, 3.9), (2001.19, 4.4),
    (2001.27, 5.4), (2001.35, 5.6), (2001.48, 5.4), (2001.52, 6.0), (2001.59, 5.4), (2001.63, 5.2),
    (2001.68, 6.0), (2001.72, 8.6), (2001.73, 7.5), (2001.77, 6.7), (2001.82, 7.0), (2001.89, 4.4),
    (2001.94, 5.6), (2001.97, 3.6), (2002.01, 4.9), (2002.04, 6.0), (2002.10, 6.5), (2002.13, 5.6),
    (2002.17, 4.4), (2002.21, 5.4), (2002.25, 7.0), (2002.29, 6.3), (2002.34, 5.4), (2002.38, 3.6),
    (2002.41, 6.7), (2002.46, 5.4), (2002.55, 6.0), (2002.61, 12.5), (2002.67, 12.2), (2002.69, 6.7),
    (2002.70, 5.4), (2002.80, 3.6), (2002.86, 13.3), (2002.81, 5.6), (2002.86, 6.0), (2002.99, 7.0),
    (2003.02, 6.7), (2003.09, 6.0), (2003.14, 5.6), (2003.17, 6.5), (2003.20, 3.6), (2003.24, 6.7),
    (2003.27, 8.6), (2003.30, 9.4), (2003.32, 11.2), (2003.34, 13.3), (2003.39, 7.5), (2003.42, 10.1),
    (2003.45, 8.0), (2003.47, 13.3), (2003.52, 9.1), (2003.56, 12.7), (2003.58, 10.7), (2003.62, 8.0),
    (2003.64, 5.4), (2003.69, 9.1), (2003.73, 9.6), (2003.82, 7.5), (2003.87, 4.4), (2003.90, 8.0),
    (2003.95, 9.1), (2003.99, 6.5), (2004.06, 7.3), (2004.09, 6.7), (2004.16, 4.4), (2004.19, 9.1),
    (2004.22, 7.7), (2004.30, 6.7), (2004.33, 6.0), (2004.40, 8.6), (2004.43, 5.4), (2004.48, 10.4),
    (2004.52, 8.6), (2004.55, 11.9), (2004.57, 7.7), (2004.63, 6.0), (2004.70, 12.2), (2004.82, 13.8),
    (2004.91, 6.7), (2004.94, 7.3), (2004.96, 8.0), (2005.01, 7.3), (2005.07, 7.7), (2005.10, 4.4),
    (2005.13, 8.6), (2005.18, 10.1), (2005.24, 12.7), (2005.26, 6.3), (2005.29, 6.7), (2005.33, 6.7),
    (2005.40, 7.3), (2005.45, 6.3), (2005.51, 8.9), (2005.54, 10.7), (2005.57, 14.3), (2005.60, 7.0),
    (2005.63, 7.0), (2005.68, 11.7), (2005.72, 9.6), (2005.82, 7.0), (2005.86, 6.7), (2005.88, 10.1),
    (2005.94, 11.2), (2005.97, 11.7), (2006.01, 11.9), (2006.05, 14.3), (2006.07, 14.8), (2006.07, 7.3),
    (2003.79, -12.1), (2003.84, -2.4), (2003.89, -12.3), (2003.92, -1.4), (2003.97, -4.8), (2003.94, -9.7),
    (2004.01, -11.3), (2004.03, -11.8), (2004.16, -3.1), (2004.33, -12.5), (2004.36, -12.5), (2004.53, -10.0),
    (2004.63, -9.7), (2004.72, -3.8), (2004.82, -6.6), (2004.84, -8.4), (2004.91, -12.1), (2005.00, -1.9),
    (2005.02, -4.5), (2005.02, -13.2), (2005.05, -9.7), (2005.08, -4.2), (2005.12, -5.6), (2005.13, -2.9),
    (2005.18, -3.5), (2005.24, -6.6), (2005.41, -10.0), (2005.44, -1.7), (2005.75, -10.0), (2005.78, -4.8),
    (2005.89, -10.0), (2005.90, -6.6), (2005.92, -11.5), (2005.94, -0.8), (2005.89, -14.2), (2005.92, -12.1),
    (2001.57, -14.6)]

# --- panel 8: ephe_diff
p8_band = [
    -1.0, -1.6, -0.6, -1.3, -0.9, -1.8, -1.1, -0.7, -1.5, -1.2, -1.7,
    -1.0, -0.6, -0.9, -0.4, -0.7, -0.3, -0.6, -0.2, -0.5, -0.1, -0.4, -0.2, -0.6, -0.3, -0.5, -0.1, -0.4, -0.9, -1.2, -0.8, -1.4, -1.1, -1.6, -1.2, -1.0,
    -0.7, -0.4, -0.2, -0.5, 0.0, -0.3, 0.1, -0.2, -0.4, 0.0, -0.3, -0.1, 0.2, -0.2, 0.0, -0.4, -0.1, 0.1, -0.3, -0.1, -0.5, -0.2, -0.6, -0.3, -0.7,
    -0.4, -0.1, 0.1, -0.2, 0.2, 0.0, -0.3, 0.1, -0.1, 0.2, -0.2, 0.0, -0.3, -0.1, -0.4, -0.2, -0.6, -0.4, -0.8, -0.6, -1.0, -0.8, -1.3, -1.0, -0.7,
    -0.5, -0.2, 0.0, -0.3, 0.1, -0.2, 0.0, -0.3, -0.1, -0.4, -0.2, -0.5, -0.8, -0.6, -1.0, -1.3, -1.1, -1.5, -1.2, -0.9, -0.6, -0.9, -0.5, -0.7, -0.4,
    -0.6, -0.3, -0.5, -0.2, -0.4, -0.1, -0.3, 0.0, -0.2, -0.4, -0.1, -0.3, 0.0, -0.2, -0.5, -0.3, -0.6, -0.4, -0.2, -0.5, -0.3, -0.6, -0.4, -0.7, -0.5,
    -0.3, -0.6, -0.4, -0.7, -0.5, -0.8, -0.6, -0.4, -0.7, -0.5, -0.8, -1.0, -1.3, -1.6, -1.9, -2.2, -1.8, -1.5, -1.2, -0.9, -0.7, -0.4, -0.6, -0.3, -0.5,
    -0.6, -0.4]
p8_band_b = [
    -1.4, -0.8, -1.2, -1.6, -0.7, -1.3, -1.0, -1.6, -0.9, -1.4, -1.1,
    -0.8, -1.2, -0.5, -0.9, -0.4, -0.8, -0.3, -0.6, -0.2, -0.5, -0.3, -0.6, -0.1, -0.5, -0.3, -0.7, -0.6, -1.1, -0.9, -1.3, -1.0, -1.5, -1.3, -1.1, -0.8,
    -0.9, -0.1, -0.6, 0.3, -0.5, 0.2, -0.7, 0.3, -0.4, -0.1, 0.3, -0.6, 0.2, -0.5, 0.3, -0.7, 0.1, -0.5, 0.2, -0.8, 0.0, -0.8, -0.1, -0.9, -0.3,
    -0.6, 0.3, -0.5, 0.4, -0.4, 0.2, -0.6, 0.3, -0.3, 0.4, -0.5, 0.1, -0.6, 0.0, -0.7, -0.1, -0.8, -0.3, -1.1, -0.4, -1.3, -0.6, -1.5, -0.5, -1.0,
    -0.1, -0.7, 0.2, -0.6, 0.3, -0.5, 0.2, -0.6, 0.1, -0.8, 0.0, -0.9, -0.4, -1.2, -0.7, -1.6, -0.9, -1.8, -0.8, -1.3, -0.4, -1.2, -0.2, -1.0, -0.1,
    -0.9, 0.0, -0.8, 0.1, -0.7, 0.2, -0.6, 0.3, -0.6, 0.1, -0.5, 0.2, -0.5, 0.1, -0.8, 0.0, -0.9, -0.1, -0.6, -0.1, -0.8, -0.2, -0.9, -0.2, -0.8,
    -0.1, -0.9, -0.1, -1.0, -0.2, -1.1, -0.3, -0.8, -0.2, -1.0, -0.5, -1.3, -1.0, -2.0, -1.5, -2.5, -1.4, -2.0, -0.9, -1.4, -0.3, -0.9, -0.1, -0.8, -0.2,
    -0.9, -0.2]
p8_extra = [
    (1999.95, -9.2), (2000.00, -4.4), (1999.90, -2.8), (1999.98, -3.0), (2000.27, -7.8), (2000.97, -3.7),
    (2000.89, -2.8), (2001.08, -11.0), (2001.27, -8.6), (2001.29, -8.4), (2001.68, -3.7), (2001.85, -5.6),
    (2002.30, -11.3), (2002.55, -9.9), (2002.83, -6.5), (2002.73, -3.0),
    (2003.91, 6.2), (2003.93, 6.5), (2004.16, 6.7), (2004.36, 5.5), (2004.69, 5.3), (2004.70, 2.8),
    (2004.70, 1.8), (2003.87, -9.2), (2004.55, -5.9), (2004.69, -6.9), (2004.85, -8.1), (2004.84, -10.3),
    (2005.33, -12.7), (2005.45, -5.3), (2005.56, -7.2), (2005.75, -3.9), (2005.67, -2.8),
    (2005.90, -7.2), (2005.91, -9.9), (2005.94, -8.6), (2005.97, -8.4), (2006.00, -8.6), (2006.02, -6.9),
    (2006.04, -6.1), (2006.06, -4.9), (2006.07, -6.0), (2005.97, 1.3), (2006.01, 1.1),
    (2003.64, -2.5), (2003.76, -2.8), (2003.81, -3.2), (2003.84, -3.9), (2003.87, -2.8), (2004.01, -2.6),
    (2004.17, -2.1), (2004.68, -2.8), (2004.78, -2.4), (2005.06, -2.1), (2005.25, -2.3), (2005.45, -2.1)]

bands = [p1_band, p2_band, p3_band, p4_band, p5_band, p6_band, p7_band, p8_band]
bands_b = [p1_band_b, p2_band_b, p3_band_b, p4_band_b, p5_band_b, p6_band_b, p7_band_b, p8_band_b]
extras = [p1_extra, p2_extra, p3_extra, p4_extra, p5_extra, p6_extra, p7_extra, p8_extra]
ylims = [(45.4, 81.6), (45.4, 81.6), (-1.7, 20.1), (36.8, 84.6),
         (-1.2, 15.5), (-1.2, 15.0), (-17.4, 16.8), (-14.7, 8.5)]
ymajor = [[50, 60, 70, 80], [50, 60, 70, 80], [0, 5, 10, 15, 20], [40, 50, 60, 70, 80],
          [0, 5, 10, 15], [0, 5, 10, 15], [-15, -10, -5, 0, 5, 10, 15], [-10, -5, 0, 5]]
yminor = [2, 2, 1, 2, 1, 1, 1, 1]

# ---------------- drawing ----------------
W, H = 750, 1400
fig = plt.figure(figsize=(W / 100, H / 100), dpi=100, facecolor="black")

left_px, right_px = 86, 737
top0_px, step_px, h_px = 21, 175.1, 110

mk = dict(linestyle="none", marker="+", markersize=7.5, markeredgewidth=1.0,
          color="white", clip_on=True)

for i in range(8):
    top_px = top0_px + step_px * i
    ax = fig.add_axes([left_px / W, 1 - (top_px + h_px) / H,
                       (right_px - left_px) / W, h_px / H])
    ax.set_facecolor("black")
    band = bands[i]
    ax.plot(T0 + DT * np.arange(len(band)), band, **mk)
    band_b = bands_b[i]
    ax.plot(T0 + DT / 2 + DT * np.arange(len(band_b)), band_b, **mk)
    if extras[i]:
        et, ev = zip(*extras[i])
        ax.plot(et, ev, **mk)

    ax.set_xlim(*XLIM)
    ax.set_ylim(*ylims[i])
    for s in ax.spines.values():
        s.set_color("white")
        s.set_linewidth(1.0)

    ax.xaxis.set_major_locator(FixedLocator(year_ticks))
    ax.set_xticklabels(["1"] * len(year_ticks))
    minor_x = [y + m / 12 for y in range(1999, 2007) for m in range(1, 12)]
    ax.xaxis.set_minor_locator(FixedLocator(minor_x))
    ax.yaxis.set_major_locator(FixedLocator(ymajor[i]))
    ax.yaxis.set_minor_locator(MultipleLocator(yminor[i]))

    ax.tick_params(axis="x", which="major", direction="in", length=3.5, width=1,
                   colors="white", top=True, bottom=True, labelsize=9, pad=6)
    ax.tick_params(axis="x", which="minor", direction="in", length=2, width=1,
                   colors="white", top=True, bottom=True)
    ax.tick_params(axis="y", which="major", direction="in", length=10, width=1,
                   colors="white", left=True, right=True, labelsize=8.5, pad=3)
    ax.tick_params(axis="y", which="minor", direction="in", length=5.5, width=1,
                   colors="white", left=True, right=True)

    ax.set_title(titles[i], color="white", fontsize=10.5, pad=4)
    ax.set_ylabel(ylabels[i], color="white", fontsize=8.5, labelpad=5)
    ax.set_xlabel("time (DOY)", color="white", fontsize=9, labelpad=2)

    if i == 7:
        trans = blended_transform_factory(ax.transData, ax.transAxes)
        for lab, xp in zip(year_labels, year_label_pos):
            ax.text(xp, -0.335, lab, transform=trans, color="white", fontsize=11.5,
                    ha="left", va="center", clip_on=False)

fig.savefig("out.png", dpi=100, facecolor="black")
